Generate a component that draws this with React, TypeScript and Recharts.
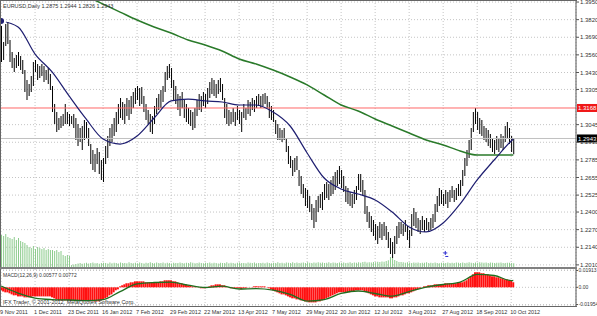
import React from "react";
import { Bar, CartesianGrid, ComposedChart, Line, ReferenceDot, ReferenceLine, XAxis, YAxis } from "recharts";

const symbol = "EURUSD,Daily";
const lastBar = [1.2875, 1.2944, 1.2826, 1.2943];
const resistance = 1.3168;
const macdTitle = "MACD(12,26,9)";
const macdLast = [0.00577, 0.00772];
const copyright = "IFX Trader, © 2001-2012, MetaQuotes Software Corp.";

const dateLabels = [
	"9 Nov 2011", "1 Dec 2011", "23 Dec 2011", "16 Jan 2012", "7 Feb 2012", "29 Feb 2012",
	"22 Mar 2012", "13 Apr 2012", "7 May 2012", "29 May 2012", "20 Jun 2012", "12 Jul 2012",
	"3 Aug 2012", "27 Aug 2012", "18 Sep 2012", "10 Oct 2012",
];

const highs = [
	1.3832, 1.3655, 1.3788, 1.3803, 1.367, 1.3581, 1.3537, 1.3559, 1.3581, 1.3552,
	1.3522, 1.3448, 1.3375, 1.3345, 1.3404, 1.3507, 1.3522, 1.3493, 1.3478, 1.3493,
	1.3478, 1.3448, 1.3463, 1.3419, 1.333, 1.3198, 1.3138, 1.3094, 1.3109, 1.3124,
	1.3198, 1.3138, 1.3124, 1.3109, 1.3124, 1.3094, 1.305, 1.302, 1.3035, 1.3079,
	1.3065, 1.302, 1.2902, 1.2858, 1.2829, 1.2873, 1.2843, 1.2784, 1.2799, 1.2888,
	1.2961, 1.302, 1.305, 1.3094, 1.3138, 1.3198, 1.3242, 1.3212, 1.3198, 1.3242,
	1.3227, 1.3257, 1.3286, 1.3316, 1.333, 1.3316, 1.3323, 1.3257, 1.3198, 1.3153,
	1.3124, 1.3109, 1.3183, 1.3242, 1.3271, 1.3301, 1.333, 1.3434, 1.3478, 1.3493,
	1.3463, 1.3375, 1.333, 1.3271, 1.3257, 1.3286, 1.3227, 1.3198, 1.3168, 1.3153,
	1.3138, 1.3168, 1.3227, 1.3271, 1.3257, 1.3286, 1.3271, 1.3316, 1.336, 1.3389,
	1.3375, 1.3345, 1.3375, 1.3389, 1.3345, 1.3242, 1.3198, 1.3153, 1.3138, 1.3168,
	1.3138, 1.3183, 1.3153, 1.3138, 1.3198, 1.3168, 1.3227, 1.3212, 1.3242, 1.3227,
	1.3257, 1.3271, 1.3257, 1.3271, 1.3279, 1.3257, 1.3212, 1.3183, 1.3153, 1.3079,
	1.305, 1.302, 1.3006, 1.302, 1.2947, 1.2888, 1.2814, 1.2784, 1.2799, 1.2814,
	1.271, 1.2666, 1.2607, 1.2578, 1.2563, 1.2519, 1.246, 1.243, 1.2489, 1.2519,
	1.2533, 1.2548, 1.2607, 1.2622, 1.2607, 1.2637, 1.2666, 1.2696, 1.271, 1.274,
	1.271, 1.2666, 1.2592, 1.2578, 1.2548, 1.2533, 1.2563, 1.2592, 1.2681, 1.2681,
	1.2637, 1.2563, 1.2445, 1.24, 1.2371, 1.2341, 1.2312, 1.2297, 1.2327, 1.2312,
	1.2327, 1.2297, 1.2253, 1.2209, 1.2179, 1.2223, 1.2297, 1.2327, 1.2327, 1.2312,
	1.2341, 1.2297, 1.2268, 1.2386, 1.243, 1.24, 1.2356, 1.2341, 1.2371, 1.2341,
	1.2356, 1.2327, 1.2356, 1.2386, 1.246, 1.2519, 1.2578, 1.2563, 1.2533, 1.2563,
	1.2548, 1.2563, 1.2592, 1.2563, 1.2578, 1.2607, 1.2637, 1.271, 1.2799, 1.2858,
	1.2932, 1.302, 1.3138, 1.3168, 1.3138, 1.3094, 1.3079, 1.3035, 1.302, 1.3006,
	1.2976, 1.2947, 1.2932, 1.2961, 1.2947, 1.2976, 1.2961, 1.3035, 1.3065, 1.302,
	1.2961, 1.2944,
];

const lows = [
	1.3507, 1.3522, 1.3626, 1.364, 1.3507, 1.3463, 1.3434, 1.3463, 1.3478, 1.3448,
	1.3419, 1.3286, 1.3227, 1.3257, 1.3286, 1.333, 1.3434, 1.3375, 1.3389, 1.3404,
	1.336, 1.3375, 1.3345, 1.3301, 1.3138, 1.305, 1.2991, 1.3006, 1.302, 1.3035,
	1.305, 1.305, 1.3035, 1.305, 1.302, 1.2932, 1.2888, 1.2917, 1.2858, 1.2932,
	1.2947, 1.2888, 1.2755, 1.271, 1.2696, 1.2755, 1.2681, 1.2637, 1.2622, 1.2755,
	1.2799, 1.2888, 1.2917, 1.2961, 1.2991, 1.305, 1.3094, 1.3079, 1.305, 1.3109,
	1.3079, 1.3124, 1.3168, 1.3198, 1.3227, 1.3183, 1.3198, 1.3138, 1.3079, 1.305,
	1.2991, 1.2976, 1.305, 1.3124, 1.3153, 1.3168, 1.3212, 1.3286, 1.3375, 1.3389,
	1.3316, 1.3227, 1.3198, 1.3153, 1.3109, 1.3168, 1.3094, 1.3065, 1.305, 1.3035,
	1.3006, 1.302, 1.3109, 1.3153, 1.3138, 1.3183, 1.3168, 1.3198, 1.3242, 1.3271,
	1.3257, 1.3242, 1.3271, 1.3286, 1.3227, 1.3094, 1.305, 1.3035, 1.305, 1.3065,
	1.3035, 1.3079, 1.305, 1.2991, 1.3094, 1.3079, 1.3124, 1.3109, 1.3153, 1.3138,
	1.3168, 1.3183, 1.3168, 1.3183, 1.3198, 1.3168, 1.3094, 1.3079, 1.3065, 1.2976,
	1.2932, 1.2932, 1.2917, 1.2932, 1.2843, 1.2755, 1.2725, 1.2666, 1.2696, 1.271,
	1.2592, 1.2533, 1.2504, 1.2445, 1.243, 1.24, 1.2341, 1.2282, 1.2327, 1.24,
	1.243, 1.2415, 1.2489, 1.2504, 1.2489, 1.2519, 1.2533, 1.2563, 1.2592, 1.2607,
	1.2578, 1.2548, 1.2474, 1.246, 1.2445, 1.243, 1.246, 1.2489, 1.2563, 1.2548,
	1.2519, 1.2386, 1.2327, 1.2282, 1.2253, 1.2223, 1.2194, 1.2164, 1.2209, 1.2194,
	1.2223, 1.2194, 1.2135, 1.2091, 1.2061, 1.2091, 1.2164, 1.2209, 1.2238, 1.2223,
	1.2253, 1.2194, 1.2135, 1.2223, 1.2297, 1.2282, 1.2253, 1.2238, 1.2268, 1.2253,
	1.2268, 1.2253, 1.2268, 1.2282, 1.2327, 1.24, 1.2445, 1.246, 1.2445, 1.246,
	1.243, 1.2474, 1.2504, 1.2474, 1.2489, 1.2519, 1.2519, 1.2592, 1.2666, 1.274,
	1.2799, 1.2858, 1.2991, 1.305, 1.3006, 1.2976, 1.2961, 1.2932, 1.2917, 1.2888,
	1.2873, 1.2843, 1.2829, 1.2858, 1.2843, 1.2873, 1.2858, 1.2917, 1.2947, 1.2902,
	1.2843, 1.2826,
];

const volumes = [
	1109, 1075, 1142, 1042, 1008, 974, 1042, 941, 1008, 907,
	874, 840, 773, 706, 672, 739, 638, 706, 672, 638,
	672, 605, 638, 605, 605, 571, 605, 538, 571, 437,
	403, 437, 403,
	101, 118, 134, 151, 168, 145, 160, 175, 152, 168, 185, 158, 172, 140, 165, 180, 170, 155, 188, 162,
	175, 168, 150, 182, 165, 172, 158, 190, 170, 162,
	175, 160, 185, 168, 152, 178, 166, 190, 172, 158, 182, 170, 165, 188, 160, 176, 168, 155, 180, 172,
	164, 186, 170, 158, 178, 166, 192, 174, 160, 170,
	182, 165, 158, 176, 170, 188, 162, 174, 168, 155, 180, 166, 172, 190, 160, 178, 168, 152, 176, 184,
	164, 170, 158, 182, 174, 166, 188, 160, 172, 168,
	176, 162, 185, 170, 158, 180, 172, 190, 166, 178, 160, 184, 175, 168, 192, 170, 182, 164, 176, 188,
	172, 196, 180, 168, 184, 176, 190, 174, 186, 170,
	178, 192, 168, 184, 176, 170, 188, 174, 182, 166, 180, 194, 172, 186, 178, 190, 176, 200, 214, 186,
	196, 182, 204, 190, 210, 198, 220, 206, 235, 260,
	370, 336, 269, 235, 202, 202,
	190, 178, 196, 184, 172, 188, 176, 182, 168, 180, 174, 190, 166, 178, 172, 186, 170, 162, 180, 176,
	168, 184, 172, 178, 164, 188, 176, 170, 182, 168, 176, 190, 180, 172, 186, 178, 194, 182, 176, 188,
	170, 184, 178, 166, 180, 174, 186, 172, 168, 180, 176, 164, 158,
];

// moving averages, read every 8th bar plus the last bar
const maFast = [
	1.381, 1.3766, 1.3566, 1.3434, 1.3257, 1.3087, 1.2939, 1.2902, 1.2961, 1.3094, 1.322,
	1.3234, 1.322, 1.3212, 1.319, 1.319, 1.3138, 1.3035, 1.2836, 1.2651, 1.257, 1.2533,
	1.2489, 1.24, 1.229, 1.2253, 1.2319, 1.246, 1.2637, 1.2784, 1.2924, 1.2939,
];
const maSlow = [
	1.4054, 1.3995, 1.3935, 1.3876, 1.3817, 1.3766, 1.3721, 1.367, 1.3633, 1.3589, 1.353,
	1.3493, 1.3448, 1.3397, 1.3338, 1.3264, 1.319, 1.3146, 1.3087, 1.3035, 1.2983, 1.2932,
	1.2895, 1.2851, 1.2821, 1.2821, 1.2821, 1.2821,
];

const macdMain = [
	-0.0034, -0.0046, -0.0057, -0.0057, -0.0068, -0.008, -0.0091, -0.0091, -0.0103, -0.0103,
	-0.0103, -0.0114, -0.0114, -0.0114, -0.0114, -0.0103, -0.0103, -0.0103, -0.0103, -0.0103,
	-0.0103, -0.0103, -0.0103, -0.0103, -0.0114, -0.0125, -0.0137, -0.0148, -0.0148, -0.0148,
	-0.015, -0.0146, -0.0149, -0.0152, -0.0147, -0.0145, -0.015, -0.0153, -0.0149, -0.0146,
	-0.0148, -0.0151, -0.0152, -0.0158, -0.016, -0.0161, -0.0157, -0.0148, -0.0137, -0.0125,
	-0.0114, -0.0091, -0.008, -0.0057, -0.0034, -0.0023, 0.0011, 0.0023, 0.0034, 0.0046,
	0.0046, 0.0057, 0.0057, 0.0068, 0.0068, 0.0068, 0.0068, 0.0068, 0.0057, 0.0057,
	0.0057, 0.0057, 0.0057, 0.0057, 0.0057, 0.0068, 0.0068, 0.008, 0.008, 0.008,
	0.008, 0.0068, 0.0068, 0.0057, 0.0046, 0.0046, 0.0034, 0.0034, 0.0023, 0.0023,
	0.0011, 0.0011, 0.0002, -0.0002, -0.0011, -0.0011, -0.0011, -0.0002, 0.0011, 0.0023,
	0.0023, 0.0034, 0.0034, 0.0034, 0.0023, 0.0023, 0.0011, 0.0002, -0.0011, -0.0011,
	-0.0011, -0.0011, -0.0011, -0.0023, -0.0011, -0.0011, -0.0003, 0.0002, 0.0003, 0.0011,
	0.0011, 0.0011, 0.0011, 0.0011, 0.0011, 0.0002, -0.0011, -0.0023, -0.0034, -0.0046,
	-0.0057, -0.0068, -0.008, -0.008, -0.0091, -0.0103, -0.0114, -0.0125, -0.0125, -0.0137,
	-0.0137, -0.0148, -0.0148, -0.016, -0.016, -0.0171, -0.0171, -0.0171, -0.0171, -0.016,
	-0.016, -0.0148, -0.0137, -0.0125, -0.0114, -0.0103, -0.0091, -0.008, -0.0068, -0.0057,
	-0.0057, -0.0057, -0.0057, -0.0057, -0.0057, -0.0046, -0.0046, -0.0034, -0.0034, -0.0034,
	-0.0034, -0.0046, -0.0057, -0.0068, -0.008, -0.0091, -0.0103, -0.0103, -0.0114, -0.0114,
	-0.0114, -0.0114, -0.0114, -0.0125, -0.0125, -0.0114, -0.0114, -0.0103, -0.0091, -0.0091,
	-0.008, -0.0068, -0.0068, -0.0057, -0.0046, -0.0034, -0.0023, -0.0011, 0.0002, 0.0011,
	0.0011, 0.0023, 0.0023, 0.0023, 0.0034, 0.0034, 0.0034, 0.0034, 0.0034, 0.0046,
	0.0046, 0.0046, 0.0046, 0.0046, 0.0046, 0.0057, 0.0057, 0.0057, 0.0068, 0.008,
	0.0103, 0.0125, 0.0148, 0.0171, 0.0171, 0.0171, 0.016, 0.016, 0.0148, 0.0148,
	0.0137, 0.0125, 0.0125, 0.0114, 0.0114, 0.0103, 0.0103, 0.0091, 0.0091, 0.008,
	0.008, 0.00577,
];
const macdSignal = [
	0.0015, -0.0065, -0.0122, -0.0139, -0.0144, -0.015, -0.0139, -0.0048, 0.0038, 0.0055, 0.006,
	0.0024, -0.0002, 0.0013, -0.0019, -0.0014, -0.0031, -0.008, -0.0156, -0.0139, -0.007, -0.0042,
	-0.007, -0.0101, -0.0048, 0.0003, 0.0032, 0.006, 0.0146, 0.0134, 0.0077, 0.00772,
];

const priceTicks = [
	1.395, 1.382, 1.369, 1.356, 1.343, 1.3305, 1.3045, 1.2915, 1.2785, 1.2655, 1.2525, 1.24, 1.227,
	1.214, 1.201,
];
const macdTicks = [0.01913, 0, -0.01954];
const marker = { bar: 209, price: 1.2098 };

const SLOTS = 271; // visible bars plus the empty shift on the right
const BARS_PER_LABEL = 16;
const MA_STEP = 8;
const SLOW_FROM = 32;
const FONT = "Liberation Sans";

const lastIdx = highs.length - 1;
const sparse = (vals: number[], from: number) => {
	const m = new Map<number, number>();
	vals.forEach((v, k) => m.set(k < vals.length - 1 ? from + k * MA_STEP : lastIdx, v));
	return m;
};
const fastAt = sparse(maFast, 0);
const slowAt = sparse(maSlow, SLOW_FROM);
const sigAt = sparse(macdSignal, 0);

const rows = Array.from({ length: SLOTS }, (_, i) => ({
	i,
	range: i < highs.length ? [lows[i], highs[i]] : null,
	vol: i < volumes.length ? volumes[i] : null,
	macd: i < macdMain.length ? macdMain[i] : null,
	fast: fastAt.get(i) ?? null,
	slow: slowAt.get(i) ?? null,
	sig: sigAt.get(i) ?? null,
}));
const dateTicks = dateLabels.map((_, k) => k * BARS_PER_LABEL);

const AxisTag = ({ viewBox, text, bg }: any) => {
	const { x, y, width } = viewBox;
	return (
		<g>
			<rect x={x + width + 1} y={y - 4} width={20} height={8} fill={bg} />
			<text x={x + width + 2} y={y + 2.2} fontSize={6} fill="#fff" fontFamily={FONT}>
				{text}
			</text>
		</g>
	);
};

const DateTick = ({ x, y, payload }: any) => (
	<text x={x - 1} y={y + 6} fontSize={5.5} fill="#333" fontFamily={FONT}>
		{dateLabels[payload.value / BARS_PER_LABEL]}
	</text>
);

const Marker = ({ cx, cy }: any) => (
	<g stroke="#2b2bd0" strokeWidth={1}>
		<line x1={cx - 2} y1={cy} x2={cx + 2} y2={cy} />
		<line x1={cx} y1={cy - 2} x2={cx} y2={cy + 2} />
		<line x1={cx} y1={cy + 3.5} x2={cx + 3} y2={cy + 3.5} />
	</g>
);

const tickStyle = { fontSize: 6, fill: "#333", fontFamily: FONT };
const macdTickStyle = { fontSize: 5, fill: "#333", fontFamily: FONT };

const App = () => {
	return (
		<div style={{ position: "absolute", left: 0, top: 0, width: 597, height: 316, background: "#fff" }}>
			<div style={{ position: "absolute", left: 0, top: 0 }}>
				<ComposedChart width={597} height={268} data={rows} margin={{ top: 0, right: 0, bottom: 0, left: 0 }}>
					<CartesianGrid stroke="#c4c4c4" strokeDasharray="1 2" />
					<XAxis dataKey="i" ticks={dateTicks} interval={0} hide />
					<XAxis xAxisId="v" dataKey="i" hide />
					<YAxis
						orientation="right"
						width={21}
						domain={[1.1987, 1.3965]}
						allowDataOverflow
						ticks={priceTicks}
						interval={0}
						tickFormatter={(v: number) => v.toFixed(4)}
						tick={tickStyle}
						tickSize={3}
						tickMargin={1}
						axisLine={{ stroke: "#555" }}
						tickLine={{ stroke: "#555" }}
					/>
					<YAxis yAxisId="vol" domain={[0, 9000]} hide />
					<Bar xAxisId="v" yAxisId="vol" dataKey="vol" fill="#8ccb8c" barSize={1} isAnimationActive={false} />
					<ReferenceLine
						y={resistance}
						stroke="#ff6868"
						strokeWidth={1}
						label={(p: any) => <AxisTag {...p} text={resistance.toFixed(4)} bg="#f01818" />}
					/>
					<ReferenceLine
						y={lastBar[3]}
						stroke="#c0c0c0"
						strokeWidth={1}
						label={(p: any) => <AxisTag {...p} text={lastBar[3].toFixed(4)} bg="#000" />}
					/>
					<Bar dataKey="range" fill="#000" barSize={1} isAnimationActive={false} />
					<Line dataKey="slow" type="monotone" stroke="#2a7a2a" strokeWidth={1.5} dot={false} connectNulls isAnimationActive={false} />
					<Line dataKey="fast" type="monotone" stroke="#1e1e70" strokeWidth={1.2} dot={false} connectNulls isAnimationActive={false} />
					<ReferenceDot x={marker.bar} y={marker.price} shape={(p: any) => <Marker {...p} />} />
				</ComposedChart>
			</div>
			<div style={{ position: "absolute", left: 0, top: 262 }}>
				<ComposedChart width={597} height={54} data={rows} margin={{ top: 7, right: 0, bottom: 0, left: 0 }}>
					<CartesianGrid stroke="#c4c4c4" strokeDasharray="1 2" />
					<XAxis
						dataKey="i"
						ticks={dateTicks}
						interval={0}
						height={10}
						tickLine={false}
						axisLine={false}
						tickSize={0}
						tick={<DateTick />}
					/>
					<YAxis
						orientation="right"
						width={21}
						domain={[-0.0212, 0.0208]}
						ticks={macdTicks}
						interval={0}
						tickFormatter={(v: number) => (v === 0 ? "0.00" : v.toFixed(5))}
						tick={macdTickStyle}
						tickSize={2}
						tickMargin={0.5}
						axisLine={{ stroke: "#555" }}
						tickLine={{ stroke: "#555" }}
					/>
					<Bar dataKey="macd" fill="#ff1010" barSize={2} isAnimationActive={false} />
					<Line dataKey="sig" type="monotone" stroke="#1e6e1e" strokeWidth={1.3} dot={false} connectNulls isAnimationActive={false} />
				</ComposedChart>
			</div>
			<svg width={597} height={316} style={{ position: "absolute", left: 0, top: 0, pointerEvents: "none" }}>
				<line x1={0} y1={0.5} x2={577} y2={0.5} stroke="#666" />
				<line x1={0.5} y1={0} x2={0.5} y2={306} stroke="#666" />
				<line x1={0} y1={268} x2={577} y2={268} stroke="#808080" strokeWidth={2} />
				<line x1={0} y1={306.5} x2={577} y2={306.5} stroke="#666" />
				<text x={3} y={8} fontSize={5.5} fill="#333" fontFamily={FONT}>
					{`${symbol}  ${lastBar.map((v) => v.toFixed(4)).join(" ")}`}
				</text>
				<text x={3} y={277} fontSize={5} fill="#333" fontFamily={FONT}>
					{`${macdTitle} ${macdLast.map((v) => v.toFixed(5)).join(" ")}`}
				</text>
				<text x={3} y={304} fontSize={5.5} fill="#333" fontFamily={FONT}>
					{copyright}
				</text>
			</svg>
		</div>
	);
};

export default App;
